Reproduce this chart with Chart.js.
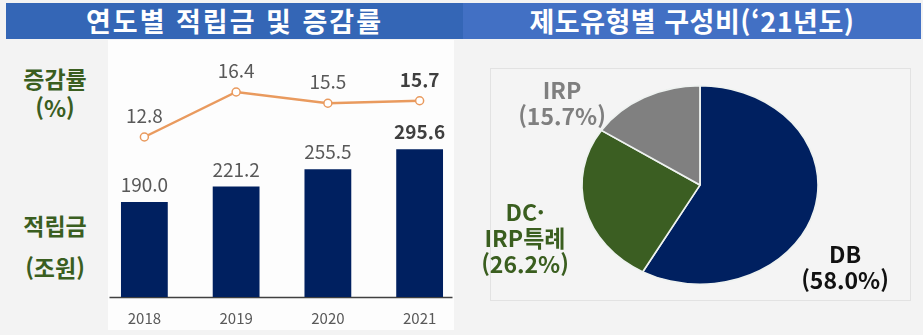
<!DOCTYPE html>
<html lang="ko">
<head>
<meta charset="utf-8">
<script src="https://cdn.jsdelivr.net/npm/chart.js@4"></script>
<style>
  html, body { margin: 0; padding: 0; }
  body { width: 923px; height: 335px; background: #f3f3f3; position: relative; overflow: hidden;
         font-family: 'Noto Sans CJK KR', 'Noto Sans', sans-serif; }
  .hdr { position: absolute; top: 3px; height: 36px; color: #fff; font-weight: bold; font-size: 27px;
         line-height: 36px; text-align: center; letter-spacing: 2px; }
  #hdrL { left: 6px; width: 457px; background: #3466b6; }
  #hdrR { left: 463px; width: 458px; background: #4270c4; letter-spacing: 0.5px; }
  #plotBg { position: absolute; left: 108px; top: 40px; width: 346px; height: 290px; background: #fdfdfd; }
  #pieBox { position: absolute; left: 490px; top: 68px; width: 419px; height: 231px;
            border: 1px solid #e2e2e2; background: #f4f4f4; }
  .side { position: absolute; width: 110px; text-align: center; color: #3a5e1f; font-weight: bold;
          font-size: 23px; line-height: 30px; left: 0; }
  .plab { position: absolute; text-align: center; font-weight: bold; font-size: 23px; line-height: 26px;
          transform: translateX(-50%); white-space: nowrap; }
  canvas { position: absolute; }
</style>
</head>
<body>
<div class="hdr" id="hdrL">연도별 적립금 및 증감률</div>
<div class="hdr" id="hdrR">제도유형별 구성비(‘21년도)</div>
<div id="plotBg"></div>
<div id="pieBox"></div>

<div class="side" style="top:63px">증감률</div>
<div class="side" style="top:92px">(%)</div>
<div class="side" style="top:210px">적립금</div>
<div class="side" style="top:252px">(조원)</div>

<canvas id="combo" width="378" height="290" style="left:93px; top:40px"></canvas>
<canvas id="pie" width="280" height="200" style="left:560px; top:85px"></canvas>

<div class="plab" style="left:562px; top:76px; color:#7f7f7f">IRP<br>(15.7%)</div>
<div class="plab" style="left:525px; top:198px; color:#3a5e1f">DC·<br>IRP특례<br>(26.2%)</div>
<div class="plab" style="left:845px; top:240px; color:#111">DB<br>(58.0%)</div>

<script>
// 연도별 적립금(조원) 및 증감률(%)
const years = ['2018', '2019', '2020', '2021'];
const reserves = [190.0, 221.2, 255.5, 295.6];
const growth = [12.8, 16.4, 15.5, 15.7];

// 제도유형별 구성비 ('21년도)
const planTypes = ['DB', 'DC·IRP특례', 'IRP'];
const planShares = [58.0, 26.2, 15.7];

const FONT = "'Noto Sans CJK KR', 'Noto Sans', sans-serif";
const NAVY = '#002060', ORANGE = '#e99a5e', GREEN = '#3b5e22', GREY = '#808080';

// 막대/꺾은선 위 값 표시
const valueLabels = {
  id: 'valueLabels',
  afterDatasetsDraw(chart) {
    const ctx = chart.ctx;
    ctx.save();
    ctx.textAlign = 'center';
    ctx.textBaseline = 'middle';
    chart.data.datasets.forEach((ds, i) => {
      const meta = chart.getDatasetMeta(i);
      const gap = ds.type === 'line' ? 21 : 17;
      meta.data.forEach((el, j) => {
        const last = j === ds.data.length - 1;
        ctx.font = (last ? 'bold ' : '') + '19px ' + FONT;
        ctx.fillStyle = last ? '#3f3f3f' : '#595959';
        ctx.fillText(ds.data[j].toFixed(1), el.x, el.y - gap);
      });
    });
    ctx.restore();
  }
};

// x축 기준선 (플롯 영역보다 약간 짧게)
const baseLine = {
  id: 'baseLine',
  beforeDatasetsDraw(chart) {
    const { ctx, chartArea: a } = chart;
    ctx.save();
    ctx.strokeStyle = '#404040';
    ctx.lineWidth = 1.5;
    ctx.beginPath();
    ctx.moveTo(a.left + 11, a.bottom + 0.5);
    ctx.lineTo(a.right - 13, a.bottom + 0.5);
    ctx.stroke();
    ctx.restore();
  }
};

new Chart(document.getElementById('combo').getContext('2d'), {
  data: {
    labels: years,
    datasets: [
      { type: 'line', label: '증감률', data: growth, yAxisID: 'y1',
        borderColor: ORANGE, borderWidth: 2.5, pointRadius: 4, pointBorderWidth: 1.5,
        pointBackgroundColor: '#fff', pointBorderColor: ORANGE, tension: 0 },
      { type: 'bar', label: '적립금', data: reserves, yAxisID: 'y',
        backgroundColor: NAVY, barPercentage: 0.51, categoryPercentage: 1 }
    ]
  },
  options: {
    responsive: false, animation: false,
    layout: { padding: { top: 7 } },
    plugins: { legend: { display: false }, tooltip: { enabled: false } },
    scales: {
      x: { offset: true, grid: { display: false }, border: { display: false },
           ticks: { color: '#595959', padding: 4, font: { size: 15, family: FONT } },
           afterFit: s => { s.height = 33; } },
      y: { display: false, min: 0, max: 500 },
      y1: { display: false, min: 0, max: 20 }
    }
  },
  plugins: [baseLine, valueLabels]
});

// 원형 그래프를 가로로 늘려 타원으로 그림
const stretch = {
  id: 'stretch',
  beforeDatasetsDraw(chart) {
    const { ctx, chartArea: a } = chart;
    const cx = (a.left + a.right) / 2;
    ctx.save();
    ctx.translate(cx, 0);
    ctx.scale(1.19, 1);
    ctx.translate(-cx, 0);
  },
  afterDatasetsDraw(chart) { chart.ctx.restore(); }
};

new Chart(document.getElementById('pie').getContext('2d'), {
  type: 'pie',
  data: {
    labels: planTypes,
    datasets: [{ data: planShares, backgroundColor: [NAVY, GREEN, GREY],
                 borderColor: '#eef2f0', borderWidth: 1.5 }]
  },
  options: {
    responsive: false, animation: false,
    plugins: { legend: { display: false }, tooltip: { enabled: false } }
  },
  plugins: [stretch]
});
</script>
</body>
</html>
